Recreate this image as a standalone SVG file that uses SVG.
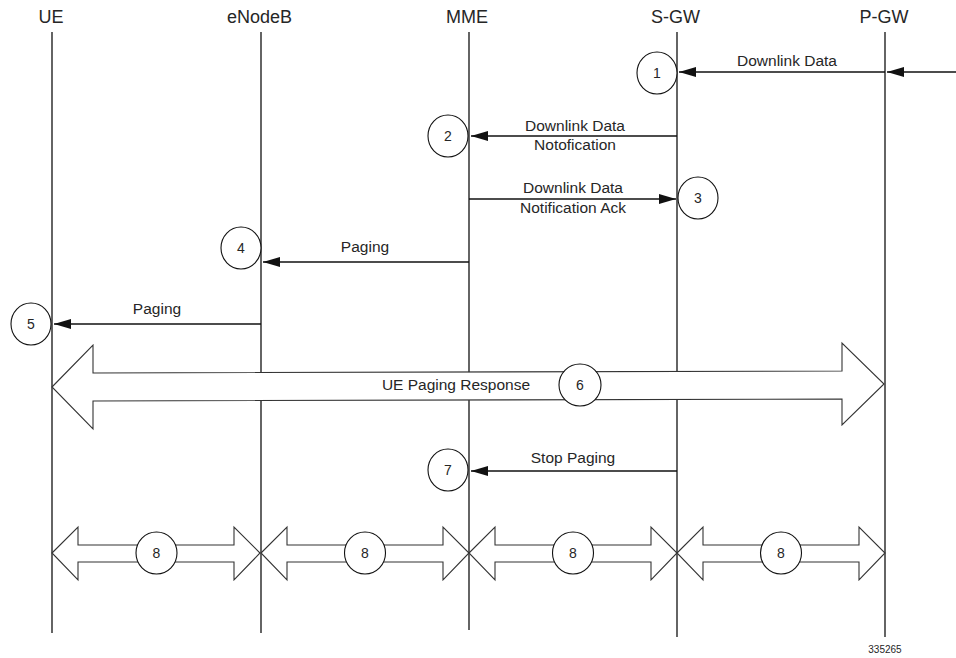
<svg xmlns="http://www.w3.org/2000/svg" width="956" height="658" viewBox="0 0 956 658">
<style>
text{font-family:"Liberation Sans",Arial,sans-serif;fill:#262626}
.title{font-size:18px;text-anchor:middle}
.lbl{font-size:15.5px;text-anchor:middle}
.num{font-size:14px;text-anchor:middle}
.life{stroke:#111;stroke-width:1.3;fill:none}
.msg{stroke:#111;stroke-width:1.5;fill:none;marker-end:url(#ah)}
.circ{fill:#fff;stroke:#111;stroke-width:1.1}
.big{fill:#fff;stroke:#333;stroke-width:1.1;stroke-linejoin:miter}
</style>
<defs>
<marker id="ah" viewBox="0 0 17 10" refX="17" refY="5" markerWidth="17" markerHeight="10" markerUnits="userSpaceOnUse" orient="auto">
<path d="M0,0 L17,5 L0,10 Z" fill="#111"/>
</marker>
</defs>
<rect width="956" height="658" fill="#fff"/>

<g id="UE"><text class="title" x="51" y="23">UE</text><line class="life" x1="52" y1="32" x2="52" y2="633"/></g>
<g id="eNodeB"><text class="title" x="259.5" y="23">eNodeB</text><line class="life" x1="261" y1="32" x2="261" y2="633"/></g>
<g id="MME"><text class="title" x="467" y="23">MME</text><line class="life" x1="469" y1="32" x2="469" y2="630"/></g>
<g id="S-GW"><text class="title" x="675.5" y="23">S-GW</text><line class="life" x1="677" y1="32" x2="677" y2="637"/></g>
<g id="P-GW"><text class="title" x="884" y="23">P-GW</text><line class="life" x1="885" y1="32" x2="885" y2="637"/></g>

<g id="connectors">
<line class="msg" x1="956" y1="72" x2="887" y2="72"/>
<line class="msg" x1="885" y1="72" x2="679" y2="72"/>
<text class="lbl" x="787" y="66">Downlink Data</text>

<line class="msg" x1="677" y1="136" x2="471" y2="136"/>
<text class="lbl" x="575" y="131">Downlink Data</text>
<text class="lbl" x="575" y="150">Notofication</text>

<line class="msg" x1="469" y1="199" x2="676" y2="199"/>
<text class="lbl" x="573" y="193">Downlink Data</text>
<text class="lbl" x="573" y="213">Notification Ack</text>

<line class="msg" x1="469" y1="262" x2="263" y2="262"/>
<text class="lbl" x="365" y="252">Paging</text>

<line class="msg" x1="261" y1="324" x2="54" y2="324"/>
<text class="lbl" x="157" y="314">Paging</text>

<polygon class="big" points="52,387 93,345 93,373 842,371 842,343 884,384 842,425 842,399 93,401 93,429"/>
<text class="lbl" x="456" y="390">UE Paging Response</text>

<line class="msg" x1="677" y1="471" x2="471" y2="471"/>
<text class="lbl" x="573" y="463">Stop Paging</text>

<polygon class="big" points="52,553 78,527 78,545 234,545 234,527 260,553 234,580 234,562 78,562 78,580"/>
<polygon class="big" points="261,553 287,527 287,545 443,545 443,527 469,553 443,580 443,562 287,562 287,580"/>
<polygon class="big" points="469,553 495,527 495,545 651,545 651,527 677,553 651,580 651,562 495,562 495,580"/>
<polygon class="big" points="677,553 703,527 703,545 859,545 859,527 885,553 859,580 859,562 703,562 703,580"/>
</g>

<g id="n1"><ellipse class="circ" cx="657" cy="73" rx="20" ry="21"/><text class="num" x="657" y="78">1</text></g>
<g id="n2"><ellipse class="circ" cx="448" cy="136" rx="20" ry="21"/><text class="num" x="448" y="141">2</text></g>
<g id="n3"><ellipse class="circ" cx="698" cy="198" rx="20" ry="21"/><text class="num" x="698" y="203">3</text></g>
<g id="n4"><ellipse class="circ" cx="241" cy="248" rx="20" ry="21"/><text class="num" x="241" y="253">4</text></g>
<g id="n5"><ellipse class="circ" cx="31" cy="324" rx="20" ry="21"/><text class="num" x="31" y="329">5</text></g>
<g id="n6"><ellipse class="circ" cx="580" cy="385" rx="21" ry="21"/><text class="num" x="580" y="390">6</text></g>
<g id="n7"><ellipse class="circ" cx="448" cy="470" rx="20" ry="21"/><text class="num" x="448" y="475">7</text></g>
<g id="n8a"><ellipse class="circ" cx="156.5" cy="553" rx="20.5" ry="21"/><text class="num" x="156.5" y="558">8</text></g>
<g id="n8b"><ellipse class="circ" cx="365" cy="553" rx="20.5" ry="21"/><text class="num" x="365" y="558">8</text></g>
<g id="n8c"><ellipse class="circ" cx="573" cy="553" rx="20.5" ry="21"/><text class="num" x="573" y="558">8</text></g>
<g id="n8d"><ellipse class="circ" cx="781" cy="553" rx="20.5" ry="21"/><text class="num" x="781" y="558">8</text></g>

<text x="885" y="653" style="font-size:10px;text-anchor:middle">335265</text>
</svg>
